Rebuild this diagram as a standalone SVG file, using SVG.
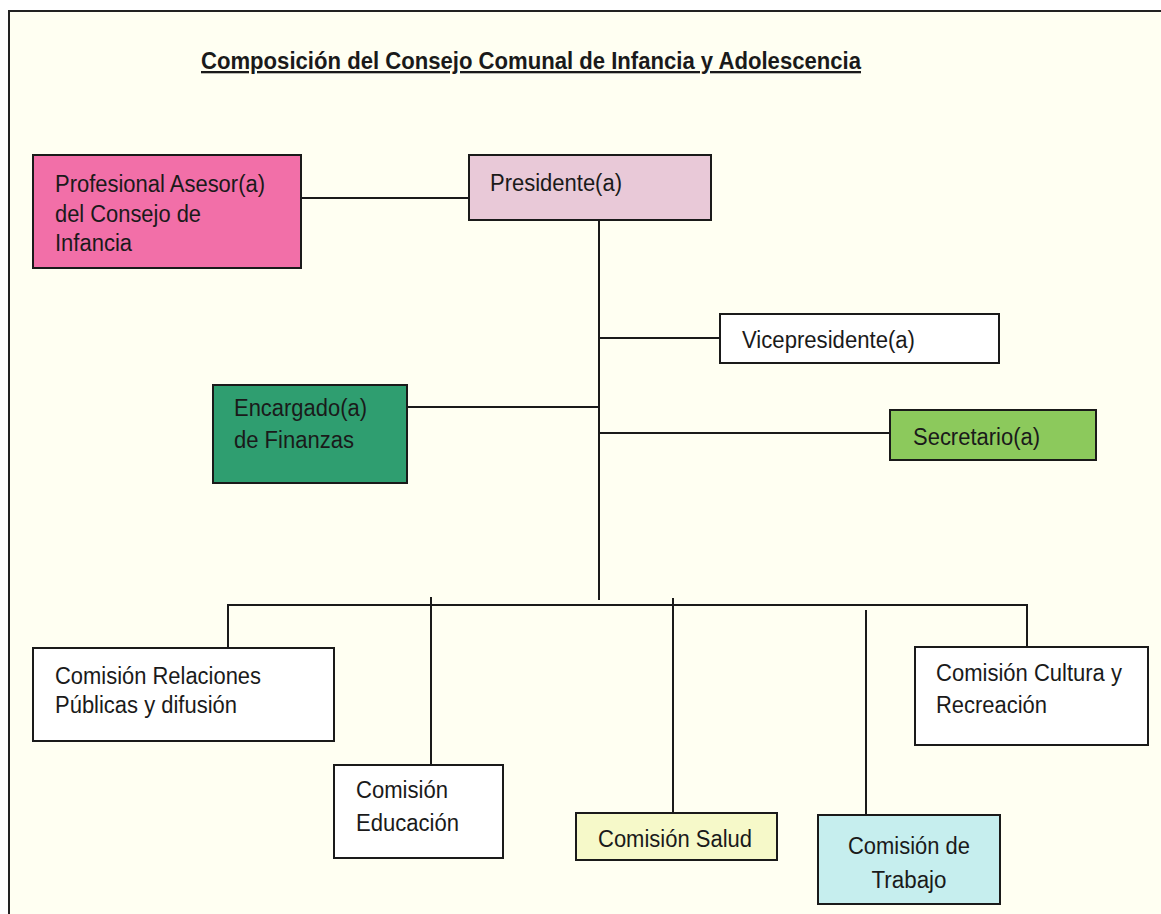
<svg xmlns="http://www.w3.org/2000/svg" width="1161" height="914" viewBox="0 0 1161 914">
<style>
.box{stroke:#1a1a1a;stroke-width:2}
.t{font-family:"Liberation Sans",Arial,sans-serif;font-size:23px;fill:#1a1a1a}
.title{font-family:"Liberation Sans",Arial,sans-serif;font-size:23px;font-weight:bold;fill:#1a1a1a;text-decoration:underline}
.c{stroke:#1a1a1a;stroke-width:2;fill:none}
</style>
<rect x="0" y="0" width="1161" height="914" fill="#ffffff"/>
<rect x="9" y="11" width="1160" height="910" fill="#fffff2" stroke="#222" stroke-width="2"/>
<text class="title" x="201" y="69" textLength="660" lengthAdjust="spacingAndGlyphs">Composición del Consejo Comunal de Infancia y Adolescencia</text>
<g id="connectors">
<line class="c" x1="301" y1="198" x2="469" y2="198"/>
<line class="c" x1="599" y1="220" x2="599" y2="600"/>
<line class="c" x1="599" y1="338" x2="720" y2="338"/>
<line class="c" x1="407" y1="407" x2="599" y2="407"/>
<line class="c" x1="599" y1="433" x2="890" y2="433"/>
<polyline class="c" points="228,648 228,605 1027,605 1027,648"/>
<line class="c" x1="431" y1="597" x2="431" y2="765"/>
<line class="c" x1="673" y1="598" x2="673" y2="813"/>
<line class="c" x1="866" y1="610" x2="866" y2="815"/>
</g>
<g id="profesional">
<rect class="box" x="33" y="155" width="268" height="113" fill="#f26fa8"/>
<text class="t" x="55" y="192" textLength="210" lengthAdjust="spacingAndGlyphs">Profesional Asesor(a)</text>
<text class="t" x="55" y="222" textLength="146" lengthAdjust="spacingAndGlyphs">del Consejo de</text>
<text class="t" x="55" y="251" textLength="77" lengthAdjust="spacingAndGlyphs">Infancia</text>
</g>
<g id="presidente">
<rect class="box" x="469" y="155" width="242" height="65" fill="#e9c9d8"/>
<text class="t" x="490" y="191" textLength="132" lengthAdjust="spacingAndGlyphs">Presidente(a)</text>
</g>
<g id="vicepresidente">
<rect class="box" x="720" y="314" width="279" height="49" fill="#ffffff"/>
<text class="t" x="742" y="348" textLength="173" lengthAdjust="spacingAndGlyphs">Vicepresidente(a)</text>
</g>
<g id="encargado">
<rect class="box" x="213" y="385" width="194" height="98" fill="#2f9e70"/>
<text class="t" x="234" y="416" textLength="133" lengthAdjust="spacingAndGlyphs">Encargado(a)</text>
<text class="t" x="234" y="448" textLength="120" lengthAdjust="spacingAndGlyphs">de Finanzas</text>
</g>
<g id="secretario">
<rect class="box" x="890" y="410" width="206" height="50" fill="#8cc95c"/>
<text class="t" x="913" y="445" textLength="127" lengthAdjust="spacingAndGlyphs">Secretario(a)</text>
</g>
<g id="relaciones">
<rect class="box" x="33" y="648" width="301" height="93" fill="#ffffff"/>
<text class="t" x="55" y="684" textLength="206" lengthAdjust="spacingAndGlyphs">Comisión Relaciones</text>
<text class="t" x="55" y="713" textLength="182" lengthAdjust="spacingAndGlyphs">Públicas y difusión</text>
</g>
<g id="educacion">
<rect class="box" x="334" y="765" width="169" height="93" fill="#ffffff"/>
<text class="t" x="356" y="798" textLength="92" lengthAdjust="spacingAndGlyphs">Comisión</text>
<text class="t" x="356" y="831" textLength="103" lengthAdjust="spacingAndGlyphs">Educación</text>
</g>
<g id="salud">
<rect class="box" x="576" y="813" width="201" height="47" fill="#f6f9c9"/>
<text class="t" x="598" y="847" textLength="154" lengthAdjust="spacingAndGlyphs">Comisión Salud</text>
</g>
<g id="trabajo">
<rect class="box" x="818" y="815" width="182" height="89" fill="#c6eeee"/>
<text class="t" x="909" y="854" text-anchor="middle" textLength="122" lengthAdjust="spacingAndGlyphs">Comisión de</text>
<text class="t" x="909" y="888" text-anchor="middle" textLength="75" lengthAdjust="spacingAndGlyphs">Trabajo</text>
</g>
<g id="cultura">
<rect class="box" x="915" y="647" width="233" height="98" fill="#ffffff"/>
<text class="t" x="936" y="681" textLength="186" lengthAdjust="spacingAndGlyphs">Comisión Cultura y</text>
<text class="t" x="936" y="713" textLength="111" lengthAdjust="spacingAndGlyphs">Recreación</text>
</g>
</svg>
